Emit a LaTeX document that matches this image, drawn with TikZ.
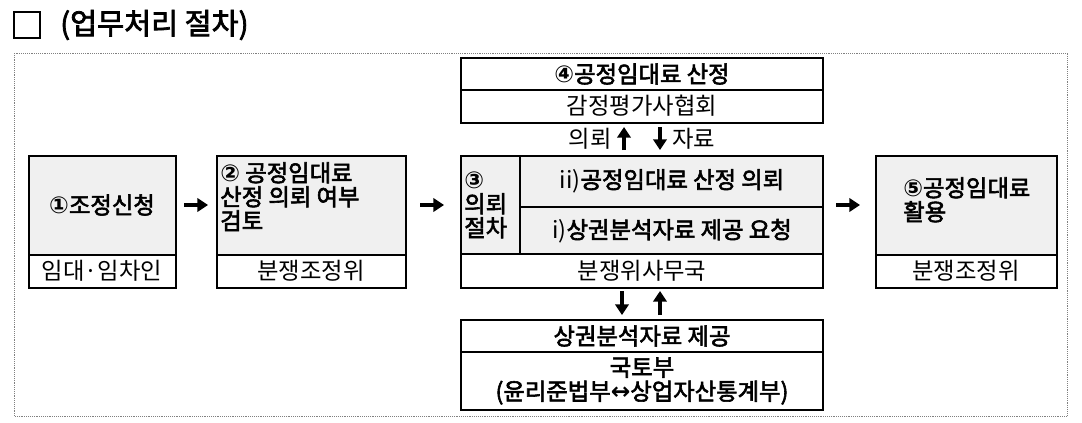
\documentclass[tikz,border=0pt]{standalone}
\usepackage{fontspec}
\setmainfont{Noto Sans CJK KR}[AutoFakeBold=2.5]
\newfontfamily\symf{DejaVu Sans}
\usetikzlibrary{arrows.meta,positioning}
\begin{document}
\begin{tikzpicture}[
        x=0.75pt, y=-0.75pt,
        box/.style={draw=black, thick},
        head/.style={box, fill=gray!12},
        lbl/.style={font=\fontsize{17.5}{19}\selectfont, inner sep=0pt},
        blbl/.style={lbl, font=\fontsize{17.5}{18}\selectfont\bfseries},
        flow/.style={-{Triangle[length=8pt,width=10pt]}, line width=3.2pt},
    ]
    \useasboundingbox (0,0) rectangle (1082,422);
    % title
    \draw[thick] (14,12) rectangle (40,38);
    \node[anchor=west, font=\fontsize{22}{24}\selectfont\bfseries, inner sep=0pt] (title) at (60,25) {(업무처리 절차)};
    \draw[densely dotted, gray] (14,53) rectangle (1067,416);
    % step 1
    \draw[head] (29,156) rectangle (176,255);
    \draw[box] (29,255) rectangle (176,288);
    \node[blbl] (s1) at (102,205) {{\symf ①}조정신청};
    \node[lbl] (s1b) at (102,271) {임대·임차인};
    % step 2
    \draw[head] (217,156) rectangle (406,255);
    \draw[box] (217,255) rectangle (406,288);
    \node[blbl, anchor=north west, align=left] (s2) at (220,162) {{\symf ②} 공정임대료\\산정 의뢰 여부\\검토};
    \node[lbl] (s2b) at (311,271) {분쟁조정위};
    % step 3
    \draw[head] (461,156) rectangle (823,254);
    \draw[box] (520,156) -- (520,254);
    \draw[box] (520,207) -- (823,207);
    \draw[box] (461,254) rectangle (823,288);
    \node[blbl, align=left, anchor=west] (s3) at (464,205) {{\symf ③}\\의뢰\\절차};
    \node[blbl] (s3a) at (672,181) {\mdseries ii)\bfseries 공정임대료 산정 의뢰};
    \node[blbl] (s3b) at (672,231) {\mdseries i)\bfseries 상권분석자료 제공 요청};
    \node[lbl] (s3c) at (642,271) {분쟁위사무국};
    % step 4
    \draw[box] (461,58) rectangle (823,90);
    \draw[box] (461,90) rectangle (823,123);
    \node[blbl] (s4) at (642,74) {{\symf ④}공정임대료 산정};
    \node[lbl] (s4b) at (642,106) {감정평가사협회};
    \node[lbl, anchor=east] (req) at (612,139) {의뢰};
    \node[lbl, anchor=west] (dat) at (672,139) {자료};
    \coordinate (u1) at (624,150); \coordinate (u2) at (624,127);
    \coordinate (d1) at (660,127); \coordinate (d2) at (660,150);
    \draw[flow] (u1) -- (u2);
    \draw[flow] (d1) -- (d2);
    % step 5
    \draw[head] (876,156) rectangle (1057,255);
    \draw[box] (876,255) rectangle (1057,288);
    \node[blbl, anchor=north west, align=left] (s5) at (903,177) {{\symf ⑤}공정임대료\\활용};
    \node[lbl] (s5b) at (966,271) {분쟁조정위};
    % arrows between steps
    \coordinate (a1) at (184,205); \coordinate (a2) at (208,205);
    \coordinate (b1) at (420,205); \coordinate (b2) at (444,205);
    \coordinate (c1) at (836,205); \coordinate (c2) at (860,205);
    \draw[flow] (a1) -- (a2);
    \draw[flow] (b1) -- (b2);
    \draw[flow] (c1) -- (c2);
    % ministry
    \draw[box] (461,320) rectangle (823,352);
    \draw[box] (461,352) rectangle (823,410);
    \node[blbl] (m1) at (642,336) {상권분석자료 제공};
    \node[blbl, align=center] (m2) at (642,381) {국토부\\(윤리준법부{\symf ↔}상업자산통계부)};
    \coordinate (e1) at (622,291); \coordinate (e2) at (622,315);
    \coordinate (f1) at (660,315); \coordinate (f2) at (660,291);
    \draw[flow] (e1) -- (e2);
    \draw[flow] (f1) -- (f2);
\end{tikzpicture}
\end{document}
